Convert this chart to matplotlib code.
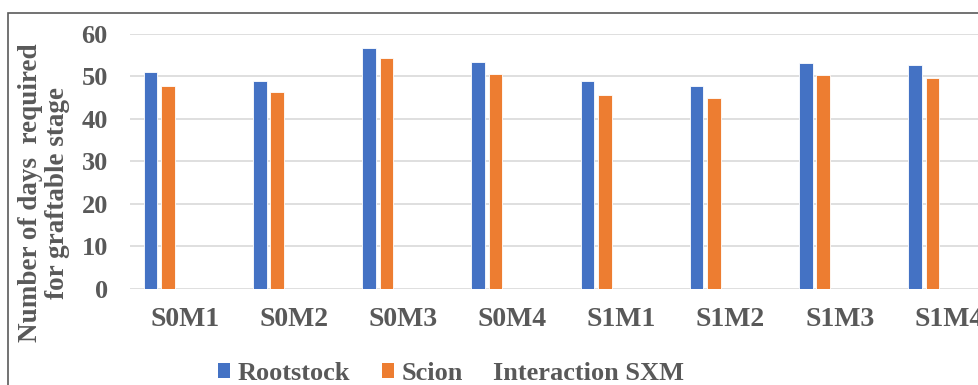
import matplotlib
matplotlib.use("Agg")
import matplotlib.pyplot as plt
from matplotlib.patches import Patch, Rectangle
import numpy as np

# Treatment combinations and days to graftable stage
categories = ["S0M1", "S0M2", "S0M3", "S0M4", "S1M1", "S1M2", "S1M3", "S1M4"]
rootstock = [51.0, 48.9, 56.6, 53.4, 48.9, 47.8, 53.2, 52.6]
scion = [47.8, 46.2, 54.2, 50.5, 45.5, 44.9, 50.2, 49.7]
y_ticks = [0, 10, 20, 30, 40, 50, 60]

BLUE = "#4472C4"
ORANGE = "#ED7D31"
TEXT = "#595959"
GRID = "#D9D9D9"
SERIF = ["Liberation Serif", "DejaVu Serif"]

W, H = 979, 385
fig = plt.figure(figsize=(W / 100, H / 100), dpi=100)

# plot area (extends past the right edge of the canvas)
left_px, bottom_px, top_px, cat_px = 130, 289, 33.7, 109.2
ax = fig.add_axes([left_px / W, 1 - bottom_px / H,
                   len(categories) * cat_px / W, (bottom_px - top_px) / H])

x = np.arange(len(categories))
bw = 0.125
ax.bar(x - 0.312, rootstock, width=bw, color=BLUE, edgecolor="white",
       linewidth=0.6, zorder=3)
ax.bar(x - 0.152, scion, width=bw, color=ORANGE, edgecolor="white",
       linewidth=0.6, zorder=3)

ax.set_xlim(-0.5, len(categories) - 0.5)
ax.set_ylim(0, 60)
ax.set_yticks(y_ticks)
ax.set_xticks(x)
ax.set_xticklabels(categories)
for s in ax.spines.values():
    s.set_visible(False)
ax.yaxis.grid(True, color=GRID, linewidth=1.2, zorder=0)
ax.set_axisbelow(True)
ax.tick_params(axis="both", length=0)
ax.tick_params(axis="y", pad=16)
ax.tick_params(axis="x", pad=13)
for lab in ax.get_yticklabels():
    lab.set_fontfamily(SERIF)
    lab.set_fontweight("bold")
    lab.set_fontsize(19)
    lab.set_color(TEXT)
for lab in ax.get_xticklabels():
    lab.set_fontfamily(SERIF)
    lab.set_fontweight("bold")
    lab.set_fontsize(20)
    lab.set_color(TEXT)

# axis title
fig.text(44 / W, 1 - 193 / H, "Number of days  required\nfor graftable stage",
         rotation=90, ha="center", va="center", multialignment="center",
         fontfamily=SERIF, fontweight="bold", fontsize=19.5, color=TEXT,
         linespacing=1.15)

# legend
handles = [Patch(facecolor=BLUE, edgecolor="none"),
           Patch(facecolor=ORANGE, edgecolor="none")]
leg = fig.legend(handles, ["Rootstock", "Scion"], loc="center left",
                 bbox_to_anchor=(218 / W, 1 - 373 / H), ncol=2, frameon=False,
                 borderpad=0, borderaxespad=0, handlelength=0.46,
                 handleheight=0.5, handletextpad=0.28, columnspacing=1.2,
                 prop={"family": SERIF, "weight": "bold", "size": 19})
for t in leg.get_texts():
    t.set_color(TEXT)
fig.text(493 / W, 1 - 373 / H, "Interaction SXM", ha="left", va="center",
         fontfamily=SERIF, fontweight="bold", fontsize=19, color=TEXT)

# chart border
fig.add_artist(Rectangle((8 / W, -0.5), 1.2, 1.5 - 13 / H,
                         transform=fig.transFigure, fill=False,
                         edgecolor="#5A5A5A", linewidth=1.2))

fig.savefig("out.png", dpi=100)
